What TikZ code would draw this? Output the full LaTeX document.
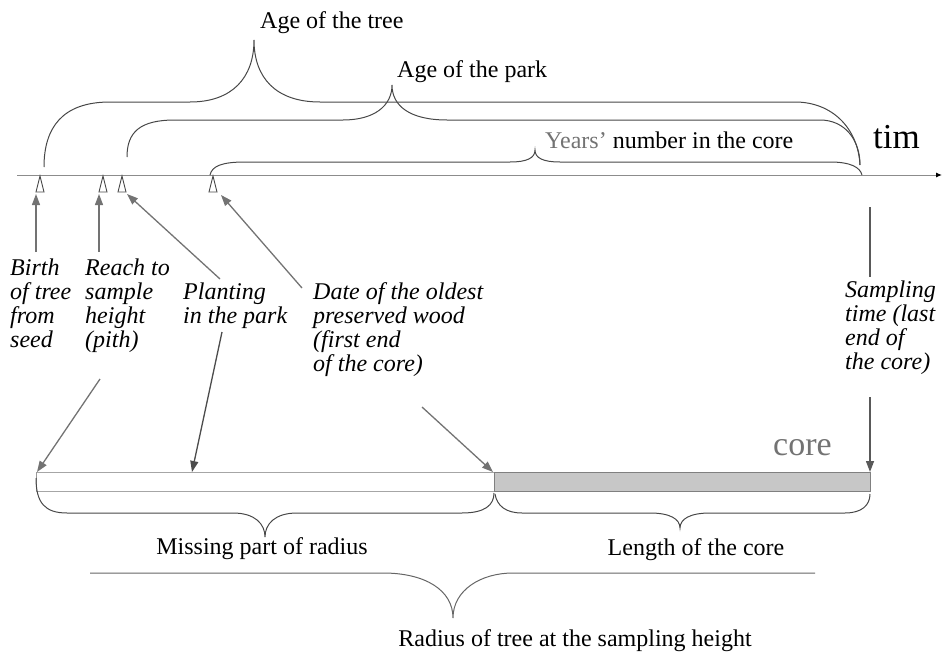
\documentclass[tikz,border=0pt]{standalone}
\usepackage{fontspec}
\setmainfont{Liberation Serif}
\usetikzlibrary{arrows.meta}
\begin{document}
\begin{tikzpicture}[x=1pt,y=-1pt,
  txt/.style={inner sep=0pt, anchor=base, font=\fontsize{24}{24}\selectfont},
  lab/.style={inner sep=0pt, anchor=base west, font=\fontsize{24}{24}\selectfont\itshape},
  bracepath/.style={draw=black!72, line width=1pt},
  arr/.style={draw=black!55, line width=1.3pt, -{Triangle[length=11pt,width=8pt]}},
  plainline/.style={draw=black!65, line width=1.1pt},
  opentri/.style={draw=black!70, line width=0.9pt, fill=white},
]
\useasboundingbox (0,0) rectangle (943,653);

% ---------------- texts ----------------
\node[txt, anchor=base west] (agetree) at (260,28) {Age of the tree};
\node[txt, anchor=base west] (agepark) at (397,77) {Age of the park};
\node[txt, anchor=base west] (years) at (545,148) {\textcolor{black!55}{Years'} number in the core};
\node[inner sep=0pt, anchor=base west, font=\fontsize{35}{35}\selectfont] (tim) at (873,148) {tim};
\node[inner sep=0pt, anchor=base west, font=\fontsize{34}{34}\selectfont, text=black!55] (core) at (773,455) {core};
\node[txt] (missing) at (262,554) {Missing part of radius};
\node[txt] (length) at (696,555) {Length of the core};
\node[txt] (radius) at (575,646) {Radius of tree at the sampling height};

\node[lab] (birth) at (10,275) {\begin{tabular}[t]{@{}l@{}}Birth\\of tree\\from\\seed\end{tabular}};
\node[lab] (reach) at (85,275) {\begin{tabular}[t]{@{}l@{}}Reach to\\sample\\height\\(pith)\end{tabular}};
\node[lab] (planting) at (183,299) {\begin{tabular}[t]{@{}l@{}}Planting\\in the park\end{tabular}};
\node[lab] (date) at (313,299) {\begin{tabular}[t]{@{}l@{}}Date of the oldest\\preserved wood\\(first end\\of the core)\end{tabular}};
\node[lab, font=\fontsize{24}{24.3}\selectfont\itshape] (sampling) at (845,297) {\begin{tabular}[t]{@{}l@{}}Sampling\\time (last\\end of\\the core)\end{tabular}};

% ---------------- time axis ----------------
\coordinate (axL) at (17,175);
\coordinate (axR) at (942,175);
\draw[draw=black!45, line width=1pt, -{Latex[length=6pt,width=5pt,black]}] (axL) -- (axR);

% open triangles on the axis
\draw[opentri, shift={(40,176)}] (-4,16) -- (0,0) -- (4,16) -- cycle;
\draw[opentri, shift={(103,176)}] (-4,16) -- (0,0) -- (4,16) -- cycle;
\draw[opentri, shift={(122,176)}] (-4,16) -- (0,0) -- (4,16) -- cycle;
\draw[opentri, shift={(213,176)}] (-4,16) -- (0,0) -- (4,16) -- cycle;

% arrows from labels to the axis marks
\coordinate (s1) at (36,252); \coordinate (e1) at (36,194);
\coordinate (s2) at (99,252); \coordinate (e2) at (99,194);
\coordinate (s3) at (220,279); \coordinate (e3) at (127,194);
\coordinate (s4) at (302,288); \coordinate (e4) at (221,195);
\draw[arr] (s1) -- (e1);
\draw[arr] (s2) -- (e2);
\draw[arr] (s3) -- (e3);
\draw[arr] (s4) -- (e4);

% sampling time line
\coordinate (s8a) at (870,207); \coordinate (s8b) at (870,277);
\coordinate (s9) at (870,397); \coordinate (e9) at (870,472);
\draw[plainline] (s8a) -- (s8b);
\draw[arr, draw=black!65] (s9) -- (e9);

% ---------------- the core ----------------
\draw[draw=black!35, line width=0.9pt] (36,472) -- (494,472);
\draw[draw=black!35, line width=0.9pt] (36,491) -- (494,491);
\draw[draw=black!40, line width=0.8pt] (36,472) -- (36,491);
\draw[draw=black!50, fill=black!22, line width=0.9pt] (494,472) rectangle (870,491);

% arrows to the core
\coordinate (s5) at (100,379); \coordinate (e5) at (37,472);
\coordinate (s6) at (222,332); \coordinate (e6) at (192,472);
\coordinate (s7) at (422,407); \coordinate (e7) at (493,472);
\draw[arr] (s5) -- (e5);
\draw[arr, draw=black!70] (s6) -- (e6);
\draw[arr] (s7) -- (e7);

% ---------------- braces ----------------
% age of the tree
\draw[bracepath] (44,167) .. controls (44,128) and (62,102) .. (110,102) -- (190,102)
  .. controls (232,102) and (254,78) .. (254,40)
  .. controls (254,78) and (276,102) .. (320,102) -- (795,102)
  .. controls (832,102) and (858,128) .. (860,165);
% age of the park
\draw[bracepath] (127,157) .. controls (127,132) and (140,120) .. (175,120) -- (343,120)
  .. controls (374,120) and (392,106) .. (392,85)
  .. controls (392,106) and (410,120) .. (447,120) -- (820,120)
  .. controls (845,120) and (860,140) .. (860,165);
% years' number in the core
\draw[bracepath] (210,175) .. controls (212,166) and (222,162) .. (245,162) -- (510,162)
  .. controls (527,162) and (535,158) .. (535,150)
  .. controls (535,158) and (543,162) .. (560,162) -- (830,162)
  .. controls (850,162) and (860,167) .. (862,175);
% missing part of radius
\draw[bracepath] (36,478) .. controls (36,503) and (45,513) .. (67,513) -- (233,513)
  .. controls (255,513) and (265,524) .. (265,537)
  .. controls (265,524) and (275,513) .. (297,513) -- (462,513)
  .. controls (485,513) and (494,505) .. (494,493);
% length of the core
\draw[bracepath] (495,494) .. controls (497,506) and (506,513) .. (522,513) -- (650,513)
  .. controls (670,513) and (680,519) .. (680,528)
  .. controls (680,519) and (690,513) .. (710,513) -- (845,513)
  .. controls (862,513) and (870,505) .. (870,494);
% radius of tree
\draw[bracepath, draw=black!60] (90,573) -- (383,573)
  .. controls (425,573) and (453,590) .. (453,618)
  .. controls (453,590) and (481,573) .. (513,573) -- (815,573);
\end{tikzpicture}
\end{document}
